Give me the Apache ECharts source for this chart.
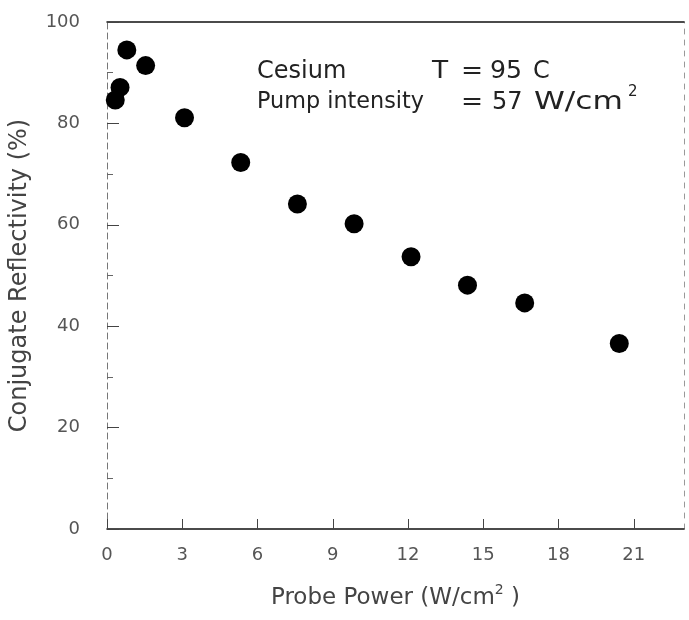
<!DOCTYPE html>
<html>
<head>
<meta charset="utf-8">
<script src="https://cdn.jsdelivr.net/npm/echarts@6/dist/echarts.min.js"></script>
<style>html,body{margin:0;padding:0;background:#fff;}#c{width:689px;height:620px;}</style>
</head>
<body>
<div id="c"></div>
<script>
// Data
var probePower = [0.33, 0.52, 0.79, 1.54, 3.09, 5.33, 7.59, 9.85, 12.12, 14.37, 16.65, 20.42];
var reflectivity = [84.6, 87.1, 94.5, 91.4, 81.1, 72.3, 64.1, 60.2, 53.7, 48.1, 44.6, 36.6];
var xTicks = [0, 3, 6, 9, 12, 15, 18, 21];
var yTicks = [0, 20, 40, 60, 80, 100];
var xLabel = 'Probe Power (W/cm{sup|2} )';
var yLabel = 'Conjugate Reflectivity (%)';
// annotation pieces: [text, x, y(top), fontSize, scaleX]
var notePieces = [
  ['Cesium', 257, 60, 24, 1],
  ['T', 432, 60, 24, 1.1],
  ['=', 461, 60, 24, 1.1],
  ['95', 490, 60, 24, 1.05],
  ['C', 533, 60, 24, 1],
  ['Pump intensity', 257, 91, 23, 0.97],
  ['=', 461, 91, 24, 1.1],
  ['57', 492, 91, 24, 1],
  ['W/cm', 534, 91, 24, 1.3],
  ['2', 628, 85, 15, 1]
];

var FONT = 'DejaVu Sans';
var points = probePower.map(function (x, i) { return [x, reflectivity[i]]; });

var chart = echarts.init(document.getElementById('c'), null, { renderer: 'canvas' });
chart.setOption({
  backgroundColor: '#fff',
  animation: false,
  grid: { left: 107, right: 5, top: 22, bottom: 91, containLabel: false },
  xAxis: [{
    type: 'value', min: xTicks[0], max: 23, interval: xTicks[1] - xTicks[0],
    position: 'bottom',
    axisLine: { show: true, lineStyle: { color: '#111', width: 1.5 } },
    axisTick: { show: true, inside: true, length: 10, lineStyle: { color: '#444' } },
    splitLine: { show: false },
    axisLabel: {
      fontFamily: FONT, fontSize: 18, color: '#555', margin: 17, showMaxLabel: false,
      formatter: function (v) { return xTicks.indexOf(v) >= 0 ? String(v) : ''; }
    },
    name: xLabel, nameLocation: 'middle', nameGap: 54,
    nameTextStyle: {
      fontFamily: FONT, fontSize: 23, color: '#444',
      rich: { sup: { fontFamily: FONT, fontSize: 14, color: '#444', verticalAlign: 'top', padding: [0, 0, 16, 0] } }
    }
  }, {
    type: 'value', min: xTicks[0], max: 23, interval: 3, position: 'top',
    axisLine: { show: true, onZero: false, lineStyle: { color: '#111', width: 1.5 } },
    axisTick: { show: false }, axisLabel: { show: false }, splitLine: { show: false }
  }],
  yAxis: [{
    type: 'value', min: yTicks[0], max: yTicks[yTicks.length - 1], interval: yTicks[1] - yTicks[0],
    axisLine: { show: true, lineStyle: { color: '#777', width: 1, type: [6, 4] } },
    axisTick: { show: true, inside: true, length: 12, lineStyle: { color: '#444' } },
    minorTick: { show: true, splitNumber: 2, length: 6, lineStyle: { color: '#666' } },
    splitLine: { show: false },
    axisLabel: { fontFamily: FONT, fontSize: 18, color: '#555', margin: 27 },
    name: yLabel, nameLocation: 'middle', nameGap: 75, nameRotate: 90,
    nameTextStyle: { fontFamily: FONT, fontSize: 24, color: '#444' }
  }, {
    type: 'value', min: 0, max: 100, interval: 20, position: 'right',
    axisLine: { show: true, onZero: false, lineStyle: { color: '#999', width: 1, type: [5, 6] } },
    axisTick: { show: false }, axisLabel: { show: false }, splitLine: { show: false }
  }],
  series: [{
    type: 'scatter', xAxisIndex: 0, yAxisIndex: 0,
    data: points, symbol: 'circle', symbolSize: 19,
    itemStyle: { color: '#000', opacity: 1 }
  }],
  graphic: notePieces.map(function (p) {
    return { type: 'text', x: p[1], y: p[2], scaleX: p[4], originX: 0, originY: 0,
      style: { x: 0, y: 0, text: p[0], font: p[3] + 'px "DejaVu Sans"', fill: '#222',
               verticalAlign: 'top', align: 'left' } };
  })
});
</script>
</body>
</html>
